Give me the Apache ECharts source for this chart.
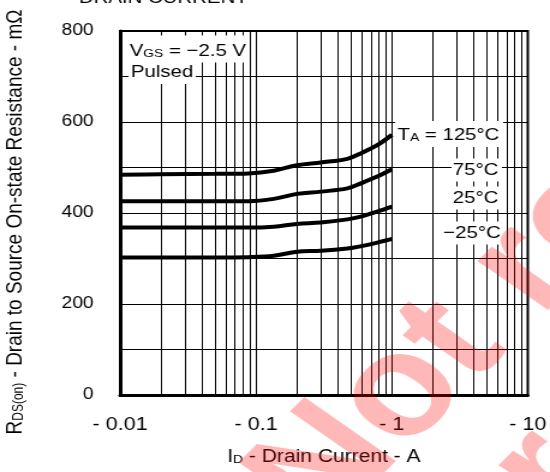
<!DOCTYPE html>
<html>
<head>
<meta charset="utf-8">
<script src="https://cdn.jsdelivr.net/npm/echarts@6/dist/echarts.min.js"></script>
<style>
html,body{margin:0;padding:0;background:#fff;overflow:hidden;}
#c{width:458px;height:472px;transform:scaleX(1.20087);transform-origin:0 0;}
</style>
</head>
<body>
<div id="c"></div>
<script>
// Drain current (A, magnitude)
const currents = [0.01, 0.02, 0.05, 0.088, 0.135, 0.2, 0.3, 0.47, 0.59, 0.78, 1.0];
// R_DS(on) in mOhm
const r125 = [484, 485, 486, 487, 493, 505, 511, 519, 531, 549, 572];
const r75  = [426, 426, 426, 426, 431, 442, 447, 454, 465, 480, 496];
const r25  = [368, 368, 368, 368, 370, 376, 379, 386, 392, 403, 414];
const rm25 = [302, 302, 302, 303, 306, 315, 317, 322, 327, 335, 343];
const seriesNames = ['125°C', '75°C', '25°C', '−25°C'];
// axis ticks
const xTickLabels = ['- 0.01', '- 0.1', '- 1', '- 10'];
const xMinorGrid = [0.02,0.03,0.04,0.05,0.06,0.07,0.08,0.09, 0.2,0.3,0.4,0.5,0.6,0.7,0.8,0.9, 2,3,4,5,6,7,8,9];
const yTickLabels = ['0', '200', '400', '600', '800'];

const FONT = 'Liberation Sans, Arial, sans-serif';
const chart = echarts.init(document.getElementById('c'));

function pairs(vals){ return currents.map((x,i)=>[x, vals[i]]); }

const curveStyle = {color:'#000', width:4};
const allVals = [r125, r75, r25, rm25];

const WM_ANGLE = 50 * Math.PI / 180;
const WM_FONT = 'bold 145px ' + FONT;
const WM_FILL = 'rgba(255,0,0,0.28)';

const option = {
  animation: false,
  grid: {left: 100, right: 15, top: 31, bottom: 77, show: true, borderColor: '#000', borderWidth: 2, backgroundColor: 'transparent'},
  xAxis: {
    type: 'log', logBase: 10, min: 0.01, max: 10,
    axisLine: {show: true, lineStyle: {color: '#000', width: 3}},
    axisTick: {show: false},
    splitLine: {show: true, lineStyle: {color: '#000', width: 1}},
    axisLabel: {
      fontFamily: FONT, fontSize: 18, color: '#000', margin: 21,
      formatter: function(v){ const i = Math.round(Math.log10(v)) + 2; return xTickLabels[i] || ''; }
    },
    name: '{a|I}{b|D}{a| - Drain Current - A}',
    nameLocation: 'middle', nameGap: 49,
    nameTextStyle: {rich: {
      a: {fontFamily: FONT, fontSize: 17.5, color: '#000', verticalAlign: 'bottom', lineHeight: 22},
      b: {fontFamily: FONT, fontSize: 11.5, color: '#000', verticalAlign: 'bottom', lineHeight: 20}
    }}
  },
  yAxis: {
    type: 'value', min: 0, max: 800, interval: 200,
    axisLine: {show: true, lineStyle: {color: '#000', width: 3}},
    axisTick: {show: false},
    splitLine: {show: true, lineStyle: {color: '#000', width: 1}},
    minorTick: {show: false, splitNumber: 2},
    minorSplitLine: {show: true, lineStyle: {color: '#000', width: 1}},
    axisLabel: {
      fontFamily: FONT, fontSize: 16, color: '#000', margin: 22,
      formatter: function(v){ return yTickLabels[Math.round(v/200)]; }
    }
  },
  series: allVals.map((vals, k) => ({
    name: seriesNames[k], type: 'line', data: pairs(vals),
    smooth: 0.35, showSymbol: false, symbol: 'none',
    lineStyle: curveStyle, z: 5,
    markLine: k === 0 ? {
      silent: true, symbol: 'none', label: {show: false},
      lineStyle: {color: '#000', width: 1, type: 'solid'},
      emphasis: {disabled: true},
      data: xMinorGrid.map(v => ({xAxis: v}))
    } : undefined
  })),
  graphic: [
    // y axis title
    {type: 'text', x: 11, y: 222, rotation: Math.PI/2, z: 50,
      style: {text: '{a|R}{b|DS(on)}{a| - Drain to Source On-state Resistance - mΩ}', align: 'center', verticalAlign: 'middle',
        rich: {a: {fontFamily: FONT, fontSize: 19, fill: '#000', verticalAlign: 'bottom', lineHeight: 22},
               b: {fontFamily: FONT, fontSize: 12, fill: '#000', verticalAlign: 'bottom', lineHeight: 19}}}},
    // clipped title at the top
    {type: 'text', x: 136, y: -2, z: 50,
      style: {text: 'DRAIN CURRENT', align: 'center', verticalAlign: 'middle', font: '17px ' + FONT, fill: '#000'}},
    // VGS annotation
    {type: 'text', x: 106, y: 49, z: 60,
      style: {text: '{a|V}{b|GS}{a| = −2.5 V}', align: 'left', verticalAlign: 'middle',
        backgroundColor: '#fff', padding: [4, 2, 3, 2],
        rich: {a: {fontFamily: FONT, fontSize: 17, fill: '#000', verticalAlign: 'bottom', lineHeight: 20},
               b: {fontFamily: FONT, fontSize: 11.5, fill: '#000', verticalAlign: 'bottom', lineHeight: 17}}}},
    {type: 'text', x: 107, y: 72, z: 60,
      style: {text: 'Pulsed', align: 'left', verticalAlign: 'middle', font: '17px ' + FONT, fill: '#000',
        backgroundColor: '#fff', padding: [3, 2, 4, 2]}},
    // temperature labels
    {type: 'text', x: 329, y: 134, z: 60,
      style: {text: '{a|T}{b|A}{a| = 125°C}', align: 'left', verticalAlign: 'middle',
        backgroundColor: '#fff', padding: [3, 3, 3, 2],
        rich: {a: {fontFamily: FONT, fontSize: 17, fill: '#000', verticalAlign: 'bottom', lineHeight: 20},
               b: {fontFamily: FONT, fontSize: 11.5, fill: '#000', verticalAlign: 'bottom', lineHeight: 16}}}},
    {type: 'text', x: 418, y: 170, z: 60,
      style: {text: '75°C', align: 'right', verticalAlign: 'middle', font: '17px ' + FONT, fill: '#000',
        backgroundColor: '#fff', padding: [3, 3, 3, 1]}},
    {type: 'text', x: 418, y: 198, z: 60,
      style: {text: '25°C', align: 'right', verticalAlign: 'middle', font: '17px ' + FONT, fill: '#000',
        backgroundColor: '#fff', padding: [3, 3, 3, 1]}},
    {type: 'text', x: 419, y: 233, z: 60,
      style: {text: '−25°C', align: 'right', verticalAlign: 'middle', font: '17px ' + FONT, fill: '#000',
        backgroundColor: '#fff', padding: [3, 2, 3, 1]}},
    // watermark
    {type: 'text', x: 238, y: 508, rotation: WM_ANGLE, z: 200, silent: true,
      style: {text: 'Not recommended', align: 'left', verticalAlign: 'middle', font: WM_FONT, fill: WM_FILL}},
    {type: 'text', x: 349, y: 601, rotation: WM_ANGLE, z: 200, silent: true,
      style: {text: 'for new design', align: 'left', verticalAlign: 'middle', font: WM_FONT, fill: WM_FILL}}
  ]
};
chart.setOption(option);
</script>
</body>
</html>
